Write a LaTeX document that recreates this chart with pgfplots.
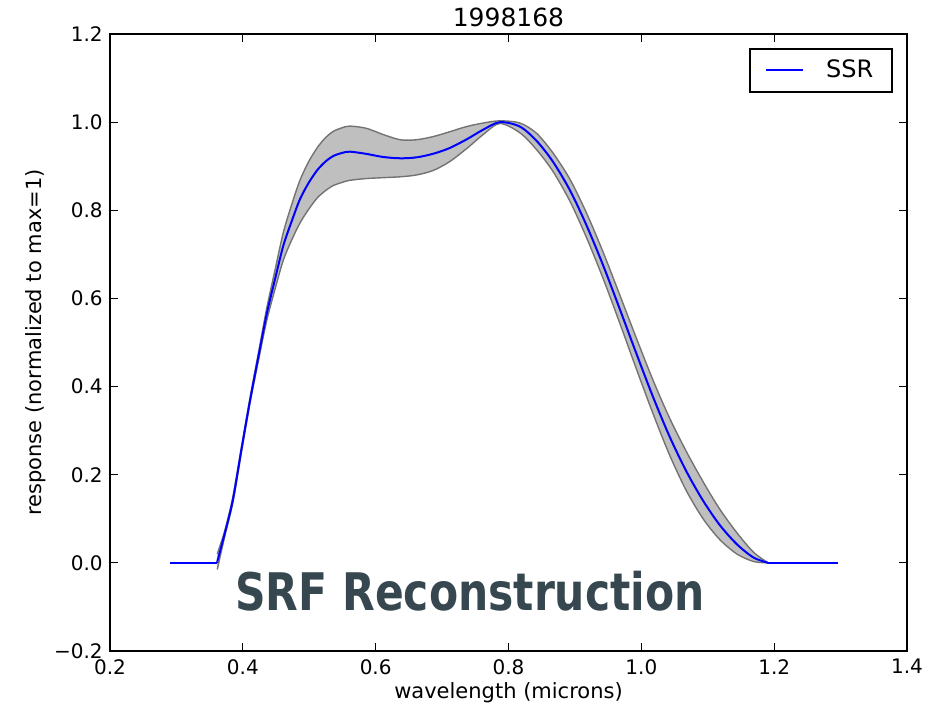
\documentclass[border=0pt]{standalone}
\usepackage{fontspec}
\setmainfont{DejaVu Sans}
\usepackage{graphicx}
\usepackage{pgfplots}
\pgfplotsset{compat=1.18}
\usepgfplotslibrary{fillbetween}
\definecolor{ssrblue}{RGB}{0,0,255}
\definecolor{bandfill}{RGB}{191,191,191}
\definecolor{bandedge}{RGB}{115,115,115}
\definecolor{srfcol}{RGB}{55,71,79}

\pgfplotstableread{
x      mean   upper  lower
0.3615 0.003  0.020  -0.015
0.373  0.068  0.074  0.062
0.385  0.143  0.150  0.137
0.398  0.258  0.264  0.252
0.411  0.370  0.376  0.364
0.424  0.472  0.481  0.463
0.436  0.565  0.578  0.550
0.449  0.647  0.668  0.624
0.461  0.720  0.750  0.687
0.474  0.777  0.815  0.734
0.486  0.825  0.868  0.771
0.499  0.862  0.910  0.802
0.512  0.891  0.942  0.828
0.524  0.910  0.964  0.844
0.536  0.923  0.979  0.856
0.549  0.930  0.987  0.863
0.561  0.933  0.991  0.868
0.586  0.928  0.986  0.872
0.611  0.921  0.972  0.874
0.637  0.918  0.960  0.876
0.661  0.920  0.960  0.880
0.686  0.928  0.967  0.890
0.711  0.941  0.978  0.910
0.737  0.961  0.990  0.940
0.762  0.983  0.998  0.972
0.787  1.000  1.003  0.997
0.817  0.990  0.998  0.976
0.842  0.958  0.975  0.938
0.867  0.910  0.930  0.888
0.893  0.844  0.869  0.819
0.918  0.764  0.792  0.736
0.943  0.673  0.703  0.643
0.968  0.574  0.606  0.542
0.993  0.473  0.508  0.438
1.018  0.375  0.413  0.337
1.043  0.285  0.327  0.243
1.068  0.207  0.252  0.163
1.093  0.141  0.184  0.100
1.118  0.086  0.122  0.053
1.144  0.042  0.068  0.020
1.169  0.012  0.024  0.003
1.191  0.000  0.000  0.000
}\srf

\begin{document}
\begin{tikzpicture}
\begin{axis}[
  name=ax,
  scale only axis,
  width=398.5pt, height=308.5pt,
  xmin=0.2, xmax=1.4, ymin=-0.2, ymax=1.2,
  xtick={0.2,0.4,0.6,0.8,1.0,1.2,1.4},
  xticklabels={0.2,0.4,0.6,0.8,1.0,1.2,1.4},
  ytick={-0.2,0,0.2,0.4,0.6,0.8,1.0,1.2},
  yticklabels={−0.2,0.0,0.2,0.4,0.6,0.8,1.0,1.2},
  tick align=inside,
  major tick length=4pt,
  tick style={black, line width=0.5pt},
  axis line style={black, line width=0.8pt},
  ticklabel style={font=\fontsize{10}{12}\selectfont},
  xticklabel style={inner sep=0pt, anchor=north, yshift=-4pt},
  yticklabel style={inner sep=0pt, anchor=east, xshift=-3.5pt},
  every axis title shift=0pt,
  title={1998168},
  title style={font=\fontsize{12.5}{15}\selectfont, at={(axis description cs:0.5,1)}, anchor=base, yshift=3.5pt},
  xlabel={wavelength (microns)},
  ylabel={response (normalized to max=1)},
  xlabel style={font=\fontsize{10.5}{12}\selectfont, at={(axis description cs:0.5,-0.0762)}, anchor=base},
  ylabel style={font=\fontsize{10.5}{12}\selectfont, at={(axis description cs:-0.0928,0.5)}, anchor=center},
  legend style={at={(1,1)}, anchor=north east, xshift=-7pt, yshift=-7pt,
    draw=black, line width=0.8pt, font=\fontsize{12}{13}\selectfont,
    inner xsep=7.5pt, inner ysep=3.6pt, nodes={inner sep=2pt},
    /tikz/every odd column/.append style={column sep=9pt}},
  legend image code/.code={\draw[#1] (0cm,0cm) -- (18.5pt,0cm);},
]
\addplot[ssrblue, line width=1pt] coordinates {(0.29,0) (0.361,0)};
\addlegendentry{SSR}

\addplot[name path=up, draw=none, smooth, forget plot] table[x=x, y=upper] {\srf};
\addplot[name path=lo, draw=none, smooth, forget plot] table[x=x, y=lower] {\srf};
\addplot[bandfill, forget plot] fill between[of=up and lo];
\addplot[bandedge, line width=0.7pt, smooth, forget plot] table[x=x, y=upper] {\srf};
\addplot[bandedge, line width=0.7pt, smooth, forget plot] table[x=x, y=lower] {\srf};

\addplot[ssrblue, line width=1pt, smooth, forget plot] table[x=x, y=mean] {\srf};
\addplot[ssrblue, line width=1pt, forget plot] coordinates {(0.361,0) (0.3615,0.003)};
\addplot[ssrblue, line width=1pt, forget plot] coordinates {(1.191,0) (1.296,0)};

\node[anchor=base west, inner sep=0pt, text=srfcol,
      font=\fontsize{25.9}{30}\selectfont\bfseries]
  at (axis cs:0.388,-0.109) {\scalebox{0.82}[1]{SRF Reconstruction}};
\end{axis}
\pgfresetboundingbox
\path[use as bounding box] ([shift={(-55pt,-28.5pt)}]ax.south west) rectangle ([shift={(19pt,17pt)}]ax.north east);
\end{tikzpicture}
\end{document}
